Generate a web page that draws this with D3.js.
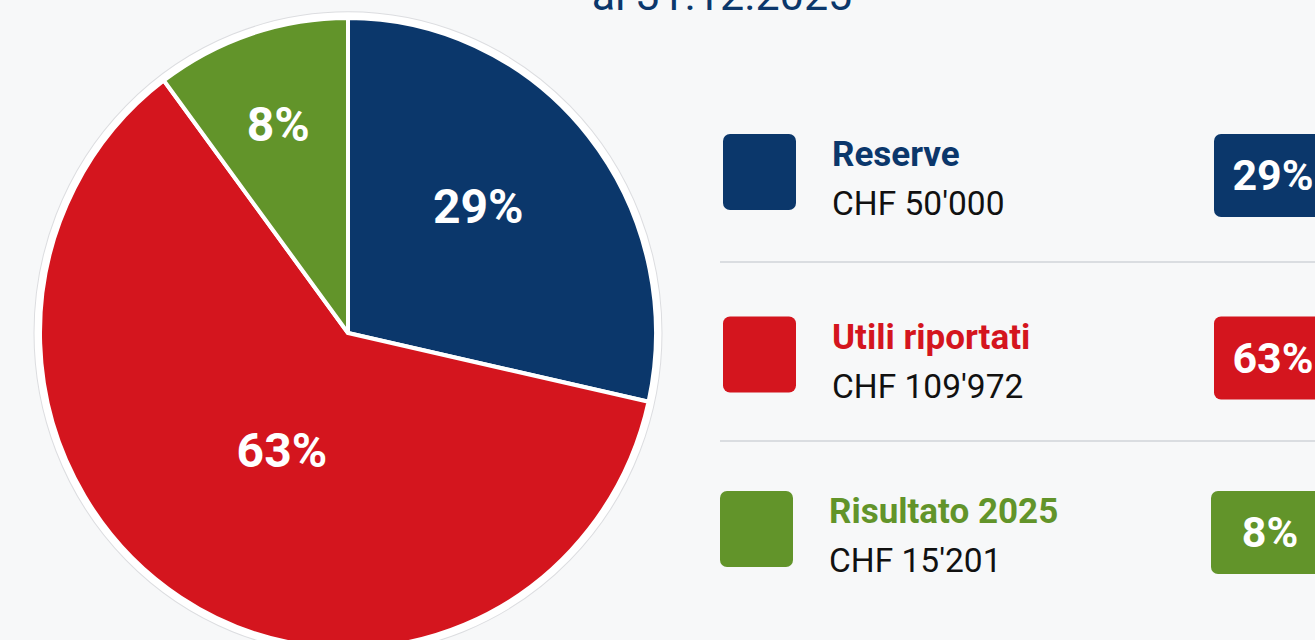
<!DOCTYPE html>
<html lang="it">
<meta charset="utf-8">
<script src="https://d3js.org/d3.v7.min.js"></script>
<head>
    <style type="text/css">
        body { margin: 0; background: #f7f8f9; }
        svg { display: block; font-family: Roboto, "Noto Sans", sans-serif; }
    </style>
</head>
<body>
    <div id="chart"></div>
    <script>
        // data
        const categories = ["Reserve", "Utili riportati", "Risultato 2025"];
        const amounts = [50000, 109972, 15201];
        const percentLabels = [29, 63, 8];
        // slice shares as drawn in the picture (percent of the circle)
        const sliceShares = [28.5, 61.3, 10.2];
        const colors = ["#0b376b", "#d4151e", "#62942a"];
        const titleText = "al 31.12.2025";

        const width = 1315, height = 640;

        const svg = d3.select("#chart")
            .append("svg")
            .attr("width", width)
            .attr("height", height);

        svg.append("rect")
            .attr("width", width)
            .attr("height", height)
            .attr("fill", "#f7f8f9");

        // title (top is cut off in the original)
        svg.append("text")
            .attr("x", 722)
            .attr("y", 10)
            .attr("text-anchor", "middle")
            .attr("fill", "#0b376b")
            .style("font-size", "43px")
            .text(titleText);

        // pie
        const cx = 348, cy = 333, r = 308, sy = 1.023;

        const pie = d3.pie().sort(null).value(d => d);
        const arcs = pie(sliceShares);
        const arc = d3.arc().innerRadius(0).outerRadius(r);

        const g = svg.append("g")
            .attr("transform", `translate(${cx},${cy}) scale(1,${sy})`);

        g.append("circle")
            .attr("r", r + 6)
            .attr("fill", "#ffffff")
            .attr("stroke", "#dcdde0")
            .attr("stroke-width", 1);

        g.selectAll("path.slice")
            .data(arcs)
            .join("path")
            .attr("class", "slice")
            .attr("d", arc)
            .attr("fill", (d, i) => colors[i])
            .attr("stroke", "#ffffff")
            .attr("stroke-width", 4)
            .attr("stroke-linejoin", "round");

        // labels in slices (radius fraction + small angle nudge per slice)
        const labelPlace = [{ f: 0.585, da: -5 }, { f: 0.43, da: -3 }, { f: 0.70, da: -0.5 }];
        const fmtPct = d => d + "%";
        svg.selectAll("text.slice-label")
            .data(arcs)
            .join("text")
            .attr("class", "slice-label")
            .attr("x", (d, i) => {
                const a = (d.startAngle + d.endAngle) / 2 + labelPlace[i].da * Math.PI / 180;
                return cx + Math.sin(a) * r * labelPlace[i].f;
            })
            .attr("y", (d, i) => {
                const a = (d.startAngle + d.endAngle) / 2 + labelPlace[i].da * Math.PI / 180;
                return cy - Math.cos(a) * r * labelPlace[i].f * sy;
            })
            .attr("dy", "0.355em")
            .attr("text-anchor", "middle")
            .attr("fill", "#ffffff")
            .style("font-size", "48px")
            .style("font-weight", "700")
            .text((d, i) => fmtPct(percentLabels[i]));

        // legend
        const chf = d3.formatLocale({ decimal: ".", thousands: "'", grouping: [3], currency: ["CHF ", ""] })
            .format("$,d");

        const rowY = d3.scalePoint()
            .domain(categories)
            .range([134, 491]);

        const rows = svg.selectAll("g.row")
            .data(categories)
            .join("g")
            .attr("class", "row")
            .attr("transform", (d, i) => `translate(${i === 2 ? -3 : 0},${rowY(d) + (i === 1 ? 4 : 0)})`);

        rows.append("rect")
            .attr("x", 723)
            .attr("width", 73)
            .attr("height", 76)
            .attr("rx", 7)
            .attr("fill", (d, i) => colors[i]);

        rows.append("text")
            .attr("x", 832)
            .attr("y", 32)
            .attr("fill", (d, i) => colors[i])
            .style("font-size", "35px")
            .style("font-weight", "700")
            .text(d => d);

        rows.append("text")
            .attr("x", 832)
            .attr("y", 81)
            .attr("fill", "#111111")
            .style("font-size", "33.5px")
            .text((d, i) => chf(amounts[i]));

        // percentage badges
        rows.append("rect")
            .attr("x", 1214)
            .attr("y", 0)
            .attr("width", 122)
            .attr("height", 83)
            .attr("rx", 7)
            .attr("fill", (d, i) => colors[i]);

        rows.append("text")
            .attr("x", 1214 + 59)
            .attr("y", 41)
            .attr("dy", "0.355em")
            .attr("text-anchor", "middle")
            .attr("fill", "#ffffff")
            .style("font-size", "43px")
            .style("font-weight", "700")
            .text((d, i) => fmtPct(percentLabels[i]));

        // separators between rows
        const sepY = [262, 441];
        svg.selectAll("line.sep")
            .data(sepY)
            .join("line")
            .attr("class", "sep")
            .attr("x1", 720)
            .attr("x2", width)
            .attr("y1", d => d)
            .attr("y2", d => d)
            .attr("stroke", "#dadde1")
            .attr("stroke-width", 2);
    </script>
</body>
</html>
